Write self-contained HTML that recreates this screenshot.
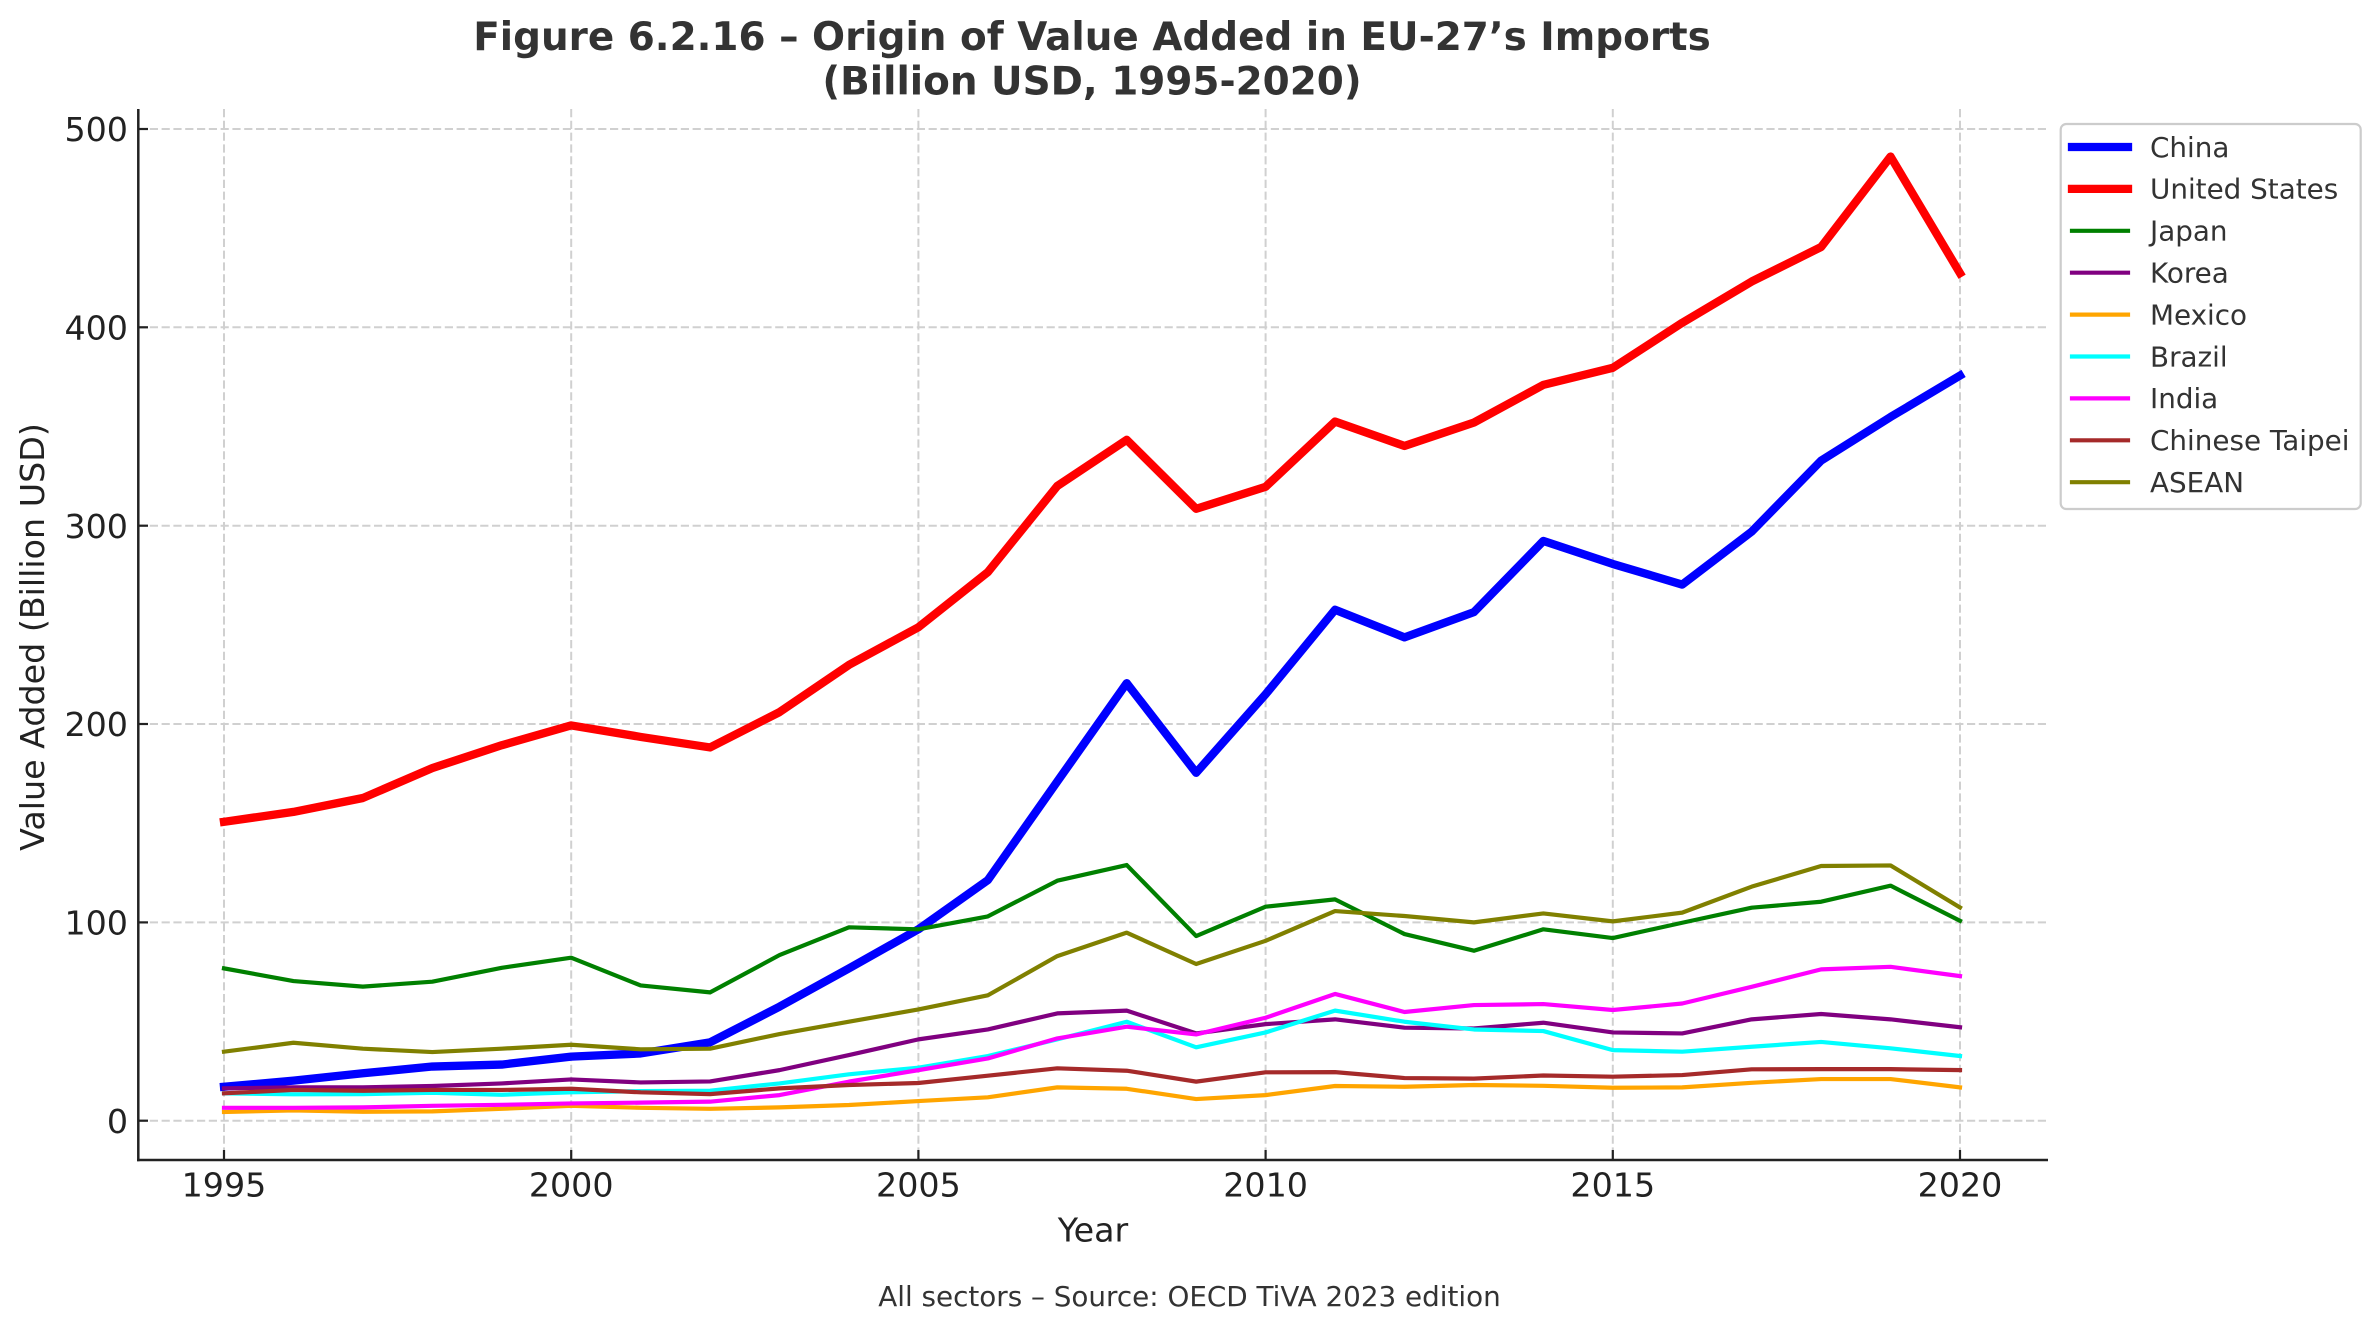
<!DOCTYPE html>
<html>
<head>
<meta charset="utf-8">
<style>
  html,body{margin:0;padding:0;background:#fff;}
  svg{display:block;}
  text{font-family:"DejaVu Sans","Liberation Sans",sans-serif;}
</style>
</head>
<body>
<svg xmlns="http://www.w3.org/2000/svg" width="2379" height="1331" viewBox="0 0 2379 1331">
  <rect x="0" y="0" width="2379" height="1331" fill="#ffffff"/>

  <!-- Title -->
  <text x="1092" y="50" text-anchor="middle" font-size="38.9" font-weight="bold" fill="#333333">Figure 6.2.16 – Origin of Value Added in EU-27’s Imports</text>
  <text x="1092" y="94.5" text-anchor="middle" font-size="38.9" font-weight="bold" fill="#333333">(Billion USD, 1995-2020)</text>

  <!-- Grid -->
  <g stroke="#d0d0d0" stroke-width="2" stroke-dasharray="8.2 3.6" fill="none">
    <line x1="224" y1="109" x2="224" y2="1160"/>
    <line x1="571.2" y1="109" x2="571.2" y2="1160"/>
    <line x1="918.4" y1="109" x2="918.4" y2="1160"/>
    <line x1="1265.6" y1="109" x2="1265.6" y2="1160"/>
    <line x1="1612.8" y1="109" x2="1612.8" y2="1160"/>
    <line x1="1960" y1="109" x2="1960" y2="1160"/>
    <line x1="138" y1="1120.7" x2="2048" y2="1120.7"/>
    <line x1="138" y1="922.4" x2="2048" y2="922.4"/>
    <line x1="138" y1="724" x2="2048" y2="724"/>
    <line x1="138" y1="525.7" x2="2048" y2="525.7"/>
    <line x1="138" y1="327.3" x2="2048" y2="327.3"/>
    <line x1="138" y1="129" x2="2048" y2="129"/>
  </g>

  <!-- Data -->
  <g transform="translate(224 1120.7) scale(69.44 -1.9834)" fill="none" stroke-linejoin="round" stroke-linecap="square">
    <polyline vector-effect="non-scaling-stroke" stroke="#0000ff" stroke-width="8.3"
      points="0,17.1 1,20.2 2,23.9 3,27.3 4,28.3 5,32.3 6,33.9 7,39.5 8,57.5 9,76.8 10,96.5 11,121.3 12,171 13,220.6 14,175.4 15,215 16,257.6 17,243.7 18,256.4 19,292.3 20,280.7 21,270.3 22,297 23,332.8 24,354.8 25,375.7"/>
    <polyline vector-effect="non-scaling-stroke" stroke="#ff0000" stroke-width="8.3"
      points="0,150.7 1,155.7 2,162.7 3,177.8 4,189.3 5,199.3 6,193.5 7,188.2 8,206 9,229.8 10,248.8 11,276.6 12,320 13,343.3 14,308.5 15,319.6 16,352.5 17,340.2 18,352 19,371 20,379.6 21,402.3 22,423.1 23,440.5 24,486.1 25,427.3"/>
    <polyline vector-effect="non-scaling-stroke" stroke="#008000" stroke-width="4.2"
      points="0,76.8 1,70.4 2,67.6 3,70.1 4,77.1 5,82.2 6,68.2 7,64.7 8,83.5 9,97.5 10,96.5 11,103 12,121 13,128.9 14,93.1 15,107.9 16,111.6 17,94.1 18,85.7 19,96.5 20,92.1 21,99.8 22,107.4 23,110.4 24,118.5 25,100.8"/>
    <polyline vector-effect="non-scaling-stroke" stroke="#800080" stroke-width="4.2"
      points="0,16.3 1,16.8 2,16.8 3,17.5 4,18.8 5,20.8 6,19.3 7,19.8 8,25.5 9,33.1 10,41 11,46 12,54.1 13,55.5 14,44 15,48.7 16,51.1 17,46.9 18,46.5 19,49.4 20,44.5 21,44 22,51.1 23,53.8 24,51.1 25,47.1"/>
    <polyline vector-effect="non-scaling-stroke" stroke="#ffa500" stroke-width="4.2"
      points="0,4.4 1,5.2 2,4.5 3,4.7 4,6 5,7.5 6,6.5 7,6 8,6.7 9,7.9 10,9.9 11,11.8 12,16.8 13,16.1 14,10.9 15,12.9 16,17.5 17,17.1 18,18 19,17.6 20,16.6 21,16.8 22,19.1 23,21 24,21 25,16.8"/>
    <polyline vector-effect="non-scaling-stroke" stroke="#00ffff" stroke-width="4.2"
      points="0,13.8 1,13.3 2,13.4 3,14.1 4,13.1 5,14.3 6,14.9 7,15.1 8,18.8 9,23.4 10,26.7 11,32.6 12,41 13,49.9 14,37 15,44.5 16,55.5 17,49.9 18,46 19,45.2 20,35.6 21,34.8 22,37.3 23,39.7 24,36.5 25,32.6"/>
    <polyline vector-effect="non-scaling-stroke" stroke="#ff00ff" stroke-width="4.2"
      points="0,6.5 1,6.5 2,6.7 3,7.5 4,8 5,8.7 6,9.1 7,9.6 8,12.9 9,19.7 10,25.5 11,31.4 12,41.5 13,47.4 14,43.5 15,51.9 16,63.9 17,54.8 18,58.3 19,58.8 20,55.8 21,59.1 22,67.5 23,76.3 24,77.6 25,72.9"/>
    <polyline vector-effect="non-scaling-stroke" stroke="#a52a2a" stroke-width="4.2"
      points="0,13.8 1,15.5 2,15.1 3,15.5 4,15.5 5,16.1 6,14.3 7,13.4 8,16.3 9,18 10,19 11,22.7 12,26.4 13,25.2 14,19.7 15,24.4 16,24.5 17,21.5 18,21.2 19,22.8 20,22.2 21,23 22,25.9 23,26 24,26 25,25.5"/>
    <polyline vector-effect="non-scaling-stroke" stroke="#808000" stroke-width="4.2"
      points="0,34.8 1,39.3 2,36.3 3,34.6 4,36.3 5,38.3 6,36 7,36.3 8,43.7 9,49.9 10,56.1 11,63.2 12,83 13,94.8 14,79 15,90.7 16,105.7 17,103.2 18,100 19,104.5 20,100.5 21,104.9 22,118 23,128.4 24,128.7 25,107.5"/>
  </g>

  <!-- Spines -->
  <g stroke="#222222" stroke-width="2.5" fill="none">
    <line x1="138.3" y1="109" x2="138.3" y2="1161.2"/>
    <line x1="137" y1="1160" x2="2048" y2="1160"/>
  </g>
  <!-- Ticks (inward) -->
  <g stroke="#222222" stroke-width="2.2">
    <line x1="224" y1="1160" x2="224" y2="1150"/>
    <line x1="571.2" y1="1160" x2="571.2" y2="1150"/>
    <line x1="918.4" y1="1160" x2="918.4" y2="1150"/>
    <line x1="1265.6" y1="1160" x2="1265.6" y2="1150"/>
    <line x1="1612.8" y1="1160" x2="1612.8" y2="1150"/>
    <line x1="1960" y1="1160" x2="1960" y2="1150"/>
    <line x1="138.3" y1="1120.7" x2="148" y2="1120.7"/>
    <line x1="138.3" y1="922.4" x2="148" y2="922.4"/>
    <line x1="138.3" y1="724" x2="148" y2="724"/>
    <line x1="138.3" y1="525.7" x2="148" y2="525.7"/>
    <line x1="138.3" y1="327.3" x2="148" y2="327.3"/>
    <line x1="138.3" y1="129" x2="148" y2="129"/>
  </g>

  <!-- Tick labels -->
  <g font-size="33.3" fill="#222222">
    <g text-anchor="middle">
      <text x="224" y="1196.5">1995</text>
      <text x="571.2" y="1196.5">2000</text>
      <text x="918.4" y="1196.5">2005</text>
      <text x="1265.6" y="1196.5">2010</text>
      <text x="1612.8" y="1196.5">2015</text>
      <text x="1960" y="1196.5">2020</text>
    </g>
    <g text-anchor="end">
      <text x="128" y="1132.8">0</text>
      <text x="128" y="934.5">100</text>
      <text x="128" y="736.1">200</text>
      <text x="128" y="537.8">300</text>
      <text x="128" y="339.4">400</text>
      <text x="128" y="141.1">500</text>
    </g>
  </g>

  <!-- Axis labels -->
  <text x="1093" y="1241.5" text-anchor="middle" font-size="33.3" fill="#222222">Year</text>
  <text transform="translate(44 637) rotate(-90)" text-anchor="middle" font-size="33.3" fill="#222222">Value Added (Billion USD)</text>

  <!-- Caption -->
  <text x="1189.5" y="1306" text-anchor="middle" font-size="27.8" fill="#333333">All sectors – Source: OECD TiVA 2023 edition</text>

  <!-- Legend -->
  <rect x="2060.7" y="124" width="300" height="385" rx="5.6" ry="5.6" fill="#ffffff" fill-opacity="0.8" stroke="#cccccc" stroke-width="2.2"/>
  <g fill="none" stroke-linecap="square">
    <line x1="2072" y1="147" x2="2128" y2="147" stroke="#0000ff" stroke-width="8.3"/>
    <line x1="2072" y1="188.9" x2="2128" y2="188.9" stroke="#ff0000" stroke-width="8.3"/>
    <line x1="2072" y1="230.8" x2="2128" y2="230.8" stroke="#008000" stroke-width="4.2"/>
    <line x1="2072" y1="272.7" x2="2128" y2="272.7" stroke="#800080" stroke-width="4.2"/>
    <line x1="2072" y1="314.6" x2="2128" y2="314.6" stroke="#ffa500" stroke-width="4.2"/>
    <line x1="2072" y1="356.5" x2="2128" y2="356.5" stroke="#00ffff" stroke-width="4.2"/>
    <line x1="2072" y1="398.4" x2="2128" y2="398.4" stroke="#ff00ff" stroke-width="4.2"/>
    <line x1="2072" y1="440.3" x2="2128" y2="440.3" stroke="#a52a2a" stroke-width="4.2"/>
    <line x1="2072" y1="482.2" x2="2128" y2="482.2" stroke="#808000" stroke-width="4.2"/>
  </g>
  <g font-size="27.8" fill="#333333">
    <text x="2150" y="156.8">China</text>
    <text x="2150" y="198.7">United States</text>
    <text x="2150" y="240.6">Japan</text>
    <text x="2150" y="282.5">Korea</text>
    <text x="2150" y="324.4">Mexico</text>
    <text x="2150" y="366.3">Brazil</text>
    <text x="2150" y="408.2">India</text>
    <text x="2150" y="450.1">Chinese Taipei</text>
    <text x="2150" y="492">ASEAN</text>
  </g>
</svg>
</body>
</html>
